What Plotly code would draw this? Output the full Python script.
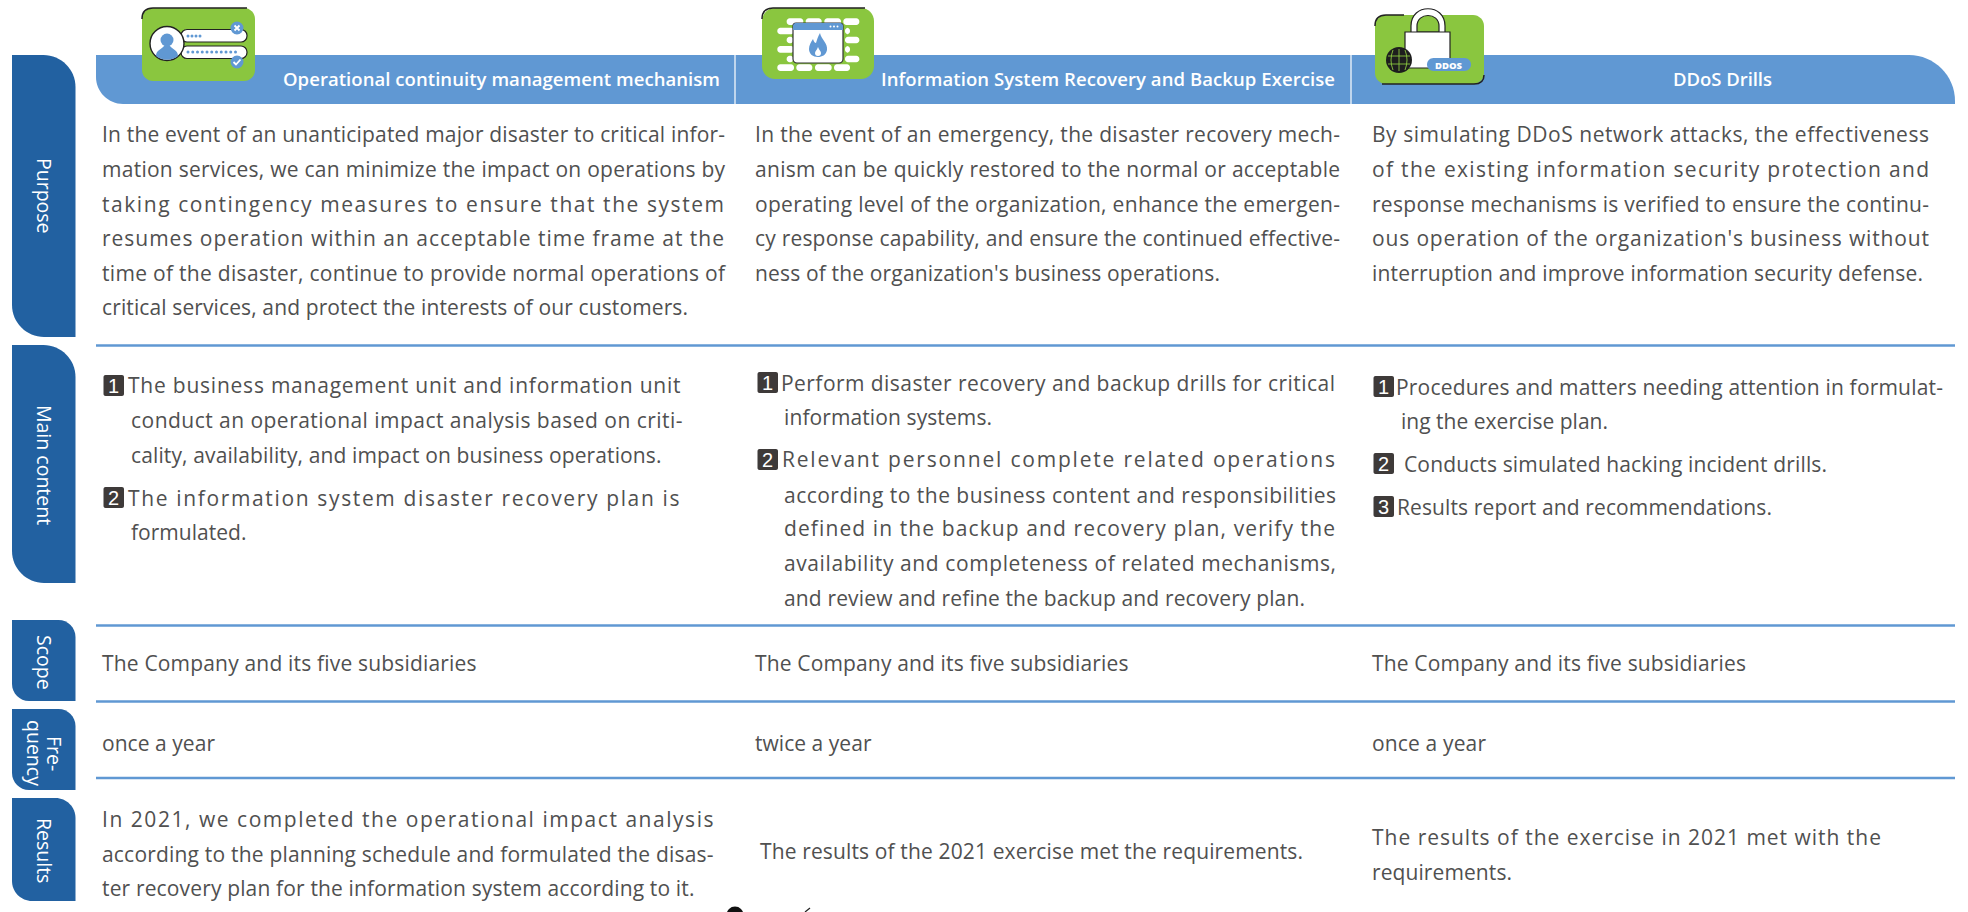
import json
import plotly.graph_objects as go

# ---------- content ----------
COLUMN_TITLES = ["Operational continuity management mechanism",
                 "Information System Recovery and Backup Exercise",
                 "DDoS Drills"]
ROW_LABELS = ["Purpose", "Main content", "Scope", "Fre-", "quency", "Results"]
PURPOSE_1 = ["In the event of an unanticipated major disaster to critical infor-",
             "mation services, we can minimize the impact on operations by",
             "taking contingency measures to ensure that the system",
             "resumes operation within an acceptable time frame at the",
             "time of the disaster, continue to provide normal operations of",
             "critical services, and protect the interests of our customers."]
PURPOSE_2 = ["In the event of an emergency, the disaster recovery mech-",
             "anism can be quickly restored to the normal or acceptable",
             "operating level of the organization, enhance the emergen-",
             "cy response capability, and ensure the continued effective-",
             "ness of the organization's business operations."]
PURPOSE_3 = ["By simulating DDoS network attacks, the effectiveness",
             "of the existing information security protection and",
             "response mechanisms is verified to ensure the continu-",
             "ous operation of the organization's business without",
             "interruption and improve information security defense."]
MAIN_1 = ["The business management unit and information unit",
          "conduct an operational impact analysis based on criti-",
          "cality, availability, and impact on business operations.",
          "The information system disaster recovery plan is",
          "formulated."]
MAIN_2 = ["Perform disaster recovery and backup drills for critical",
          "information systems.",
          "Relevant personnel complete related operations",
          "according to the business content and responsibilities",
          "defined in the backup and recovery plan, verify the",
          "availability and completeness of related mechanisms,",
          "and review and refine the backup and recovery plan."]
MAIN_3 = ["Procedures and matters needing attention in formulat-",
          "ing the exercise plan.",
          "Conducts simulated hacking incident drills.",
          "Results report and recommendations."]
SCOPE = ["The Company and its five subsidiaries"] * 3
FREQUENCY = ["once a year", "twice a year", "once a year"]
RESULTS_1 = ["In 2021, we completed the operational impact analysis",
             "according to the planning schedule and formulated the disas-",
             "ter recovery plan for the information system according to it."]
RESULTS_2 = ["The results of the 2021 exercise met the requirements."]
RESULTS_3 = ["The results of the exercise in 2021 met with the", "requirements."]

# ---------- layout geometry ----------
W, H = 1968, 912
BLUE, NAVY, GREEN, GREY, DARK = "#6098d3", "#2261a1", "#8ac63f", "#505050", "#3e3a39"
BODY = "Open Sans"
SIZE = 21

shapes, annos, targets = [], [], {}


def rr(x0, y0, x1, y1, tl=0, tr=0, br=0, bl=0):
    k = 0.45
    p = f"M{x0+tl},{y0} L{x1-tr},{y0} "
    if tr: p += f"C{x1-tr*k},{y0} {x1},{y0+tr*k} {x1},{y0+tr} "
    p += f"L{x1},{y1-br} "
    if br: p += f"C{x1},{y1-br*k} {x1-br*k},{y1} {x1-br},{y1} "
    p += f"L{x0+bl},{y1} "
    if bl: p += f"C{x0+bl*k},{y1} {x0},{y1-bl*k} {x0},{y1-bl} "
    p += f"L{x0},{y0+tl} "
    if tl: p += f"C{x0},{y0+tl*k} {x0+tl*k},{y0} {x0+tl},{y0} "
    return p + "Z"


def fill(path, color, lw=0, lc=None):
    shapes.append(dict(type="path", path=path, fillcolor=color,
                       line=dict(width=lw, color=lc or color), xref="x", yref="y", layer="below"))


def stroke(path, color, lw=1.5):
    shapes.append(dict(type="path", path=path, line=dict(width=lw, color=color), xref="x", yref="y", layer="below"))


def circle(cx, cy, r, color, lw=0, lc=None):
    shapes.append(dict(type="circle", x0=cx-r, x1=cx+r, y0=cy-r, y1=cy+r, fillcolor=color,
                       line=dict(width=lw, color=lc or color), xref="x", yref="y", layer="below"))


def text(s, x, y, right=None, size=SIZE, color=GREY, weight=400, anchor="left", family=BODY, angle=0):
    if right is not None:
        targets[len(annos)] = right - x
    annos.append(dict(text=s, x=x, y=y, xref="x", yref="y", xanchor=anchor, yanchor="middle",
                      align="left" if anchor == "left" else "center", showarrow=False,
                      borderpad=0, borderwidth=0, textangle=angle,
                      font=dict(family=family, size=size, color=color, weight=weight)))


# left tabs
TAB_Y = [(55, 337), (345, 583), (620, 701), (709, 790), (798, 901)]
TAB_R = [32, 32, 17, 17, 20]
for (y0, y1), r in zip(TAB_Y, TAB_R):
    fill(rr(12, y0, 75.5, y1, tr=r, bl=r), NAVY)
TAB_X = [45, 45, 45, 55, 35, 45]
TAB_CY = [196, 465, 662, 753, 753, 850]
for lab, x, cy in zip(ROW_LABELS, TAB_X, TAB_CY):
    text(lab, x, cy, size=19.5, color="#ffffff", weight=500, anchor="center", angle=90)

# header band
fill(rr(96, 55, 1955, 104, tr=46, bl=27), BLUE)
for x in (735, 1351):
    shapes.append(dict(type="line", x0=x, x1=x, y0=55, y1=104, line=dict(color="#ffffff", width=1.2),
                       xref="x", yref="y", layer="below"))
# row rules
for y in (345.5, 625.5, 701.5, 778):
    shapes.append(dict(type="line", x0=96, x1=1955, y0=y, y1=y, line=dict(color=BLUE, width=2.6),
                       xref="x", yref="y", layer="below"))

# column titles
for s, x, r in zip(COLUMN_TITLES, (283, 881, 1673), (720, 1335, 1772)):
    text(s, x, 78.5, r, size=18.5, color="#ffffff", weight=600)

# ---------- icon 1 ----------
fill(rr(142, 8, 255, 81, 11, 11, 11, 11), GREEN)
stroke("M142,19 Q142,8 153,8 L247,8", "#222222")
fill(rr(181, 29.5, 247, 42, 6, 6, 6, 6), "#ffffff", 1.2, "#222222")
fill(rr(181, 46, 247, 58.5, 6, 6, 6, 6), "#ffffff", 1.2, "#222222")
circle(167, 43.5, 17, "#ffffff", 1.4, "#222222")
circle(167, 40, 6.5, BLUE)
fill("M156,56 C156,50 162,49 164,46 L170,46 C172,49 178,50 178,56 C172,61 162,61 156,56 Z", BLUE)
circle(237, 28, 6.5, BLUE)
circle(237, 62, 6.5, BLUE)
stroke("M234.5,25.5 L239.5,30.5 M239.5,25.5 L234.5,30.5", "#ffffff", 1.8)
stroke("M233.5,62 L236,64.5 L240.5,59.5", "#ffffff", 1.8)

# ---------- icon 2 ----------
fill(rr(762, 8, 874, 79, 13, 13, 13, 13), GREEN)
stroke("M762,19 Q762,8 773,8 L865,8", "#222222")
BRICKS = [(95, 145, 65), (152, 200, 65), (208, 258, 65), (265, 313, 65),
          (67, 117, 93), (270, 285, 93), (95, 115, 120), (270, 313, 120),
          (67, 117, 148), (270, 285, 148), (95, 115, 177), (270, 313, 177),
          (67, 117, 203), (124, 172, 203), (180, 230, 203), (237, 285, 203)]
for a, b, c in BRICKS:
    fill(rr(755 + a/3, c/3 - 3.3, 755 + b/3, c/3 + 3.3, 3, 3, 3, 3), "#ffffff")
fill(rr(793, 23, 843, 63, 3, 3, 4, 4), "#ffffff", 1.2, "#333333")
fill(rr(793, 23, 843, 30, 3, 3, 0, 0), BLUE)
for x in (830.5, 834, 837.5):
    circle(x, 26.5, 1, "#ffffff")
fill("M820,33 C821,39 828,43 827,50 C826,55 822,57 818,57 C813,57 809,54 809,49 "
     "C809,45 811,42 813,39 C814,42 815,43 816,43 C817,40 818,36 820,33 Z", BLUE)
fill("M818,47 C819,50 821,51 821,53 C821,55 820,56 818,56 C816,56 815,55 815,53 C815,51 817,50 818,47 Z", "#ffffff")

# ---------- icon 3 ----------
fill(rr(1375, 15, 1484, 84, 11, 11, 11, 11), GREEN)
stroke("M1375,26 Q1375,15 1386,15 L1404,15", "#222222")
stroke("M1382,84 L1474,84 Q1484,84 1484,75", "#222222")
fill("M1411,33 L1411,26 C1411,3 1445,3 1445,26 L1445,33 Z", "#ffffff", 1.2, "#222222")
fill("M1417,32 L1417,26 C1417,12 1439,12 1439,26 L1439,32 Z", GREEN, 1.2, "#222222")
fill(rr(1405, 32, 1450, 68), "#ffffff", 1.2, "#222222")
circle(1399, 60, 13, "#1e1e1e")
stroke("M1388,56 L1410,56 M1388,64 L1410,64 M1399,49 L1399,71 M1393,50 Q1389,60 1393,70 M1405,50 Q1409,60 1405,70",
       GREEN, 0.9)
fill(rr(1427, 58, 1471, 71, 6.5, 6.5, 6.5, 6.5), BLUE)
text("DDOS", 1449, 65, size=9.5, color="#ffffff", weight=800, anchor="center")

# clipped artwork at the foot of the page
circle(735, 915, 8.5, "#111111")
stroke("M805,912 L810,908", "#222222", 1.3)

# ---------- body text ----------
ROW_Y = [133.5, 168.5, 203.5, 238, 272.5, 307]
for s, y, r in zip(PURPOSE_1, ROW_Y, (725, 725, 724, 724, 725, 688)):
    text(s, 102, y, r)
for s, y, r in zip(PURPOSE_2, ROW_Y, (1340, 1340, 1340, 1340, 1220)):
    text(s, 755, y, r)
for s, y, r in zip(PURPOSE_3, ROW_Y, (1929, 1929, 1929, 1929, 1923)):
    text(s, 1372, y, r)

for s, x, y, r in zip(MAIN_1, (127.5, 130.5, 130.5, 127.5, 130.5), (385, 420, 455, 498, 532), (680, 682, 661, 679, 246)):
    text(s, x, y, r)
for s, x, y, r in zip(MAIN_2, (781, 784, 782, 784, 784, 784, 784), (383, 417, 459, 495, 528, 563, 598),
                      (1335, 992, 1335, 1336, 1335, 1336, 1305)):
    text(s, x, y, r)
for s, x, y, r in zip(MAIN_3, (1396, 1401, 1404, 1397), (387, 421, 464, 507), (1943, 1608, 1827, 1772)):
    text(s, x, y, r)

BADGES = [(103.5, 124, 375, 1), (103.5, 124, 487, 2), (757.5, 778, 372, 1), (757.5, 778, 449, 2),
          (1373.5, 1394, 376, 1), (1373.5, 1394, 453, 2), (1373.5, 1394, 496, 3)]
for x0, x1, y0, n in BADGES:
    fill(rr(x0, y0, x1, y0 + 21, 2, 2, 2, 2), DARK)
    text(str(n), (x0 + x1) / 2, y0 + 10.5, size=20, color="#ffffff", anchor="center", family="Liberation Sans")

for s, x, r in zip(SCOPE, (102, 754.5, 1372), (476.5, 1128, 1746)):
    text(s, x, 663, r)
for s, x, r in zip(FREQUENCY, (102, 754.5, 1372), (215, 871, 1486)):
    text(s, x, 743, r)
for s, y, r in zip(RESULTS_1, (819, 854, 888), (713.5, 713.5, 694.5)):
    text(s, 102, y, r)
text(RESULTS_2[0], 760, 851, 1303)
for s, y, r in zip(RESULTS_3, (837, 872), (1881, 1512)):
    text(s, 1372, y, r)

# ---------- figure ----------
DOT_X = [188, 192, 196, 200] + [188 + 4.75 * i for i in range(11)]
DOT_Y = [36] * 4 + [52] * 11
fig = go.Figure(go.Scatter(x=DOT_X, y=DOT_Y, mode="markers", hoverinfo="skip",
                           marker=dict(color=BLUE, size=3), showlegend=False))
fig.update_layout(width=W, height=H, margin=dict(l=0, r=0, t=0, b=0), paper_bgcolor="#ffffff",
                  plot_bgcolor="#ffffff", shapes=shapes, annotations=annos, showlegend=False,
                  xaxis=dict(range=[0, W], visible=False, fixedrange=True),
                  yaxis=dict(range=[H, 0], visible=False, fixedrange=True))

POST = """
document.documentElement.style.margin='0';document.body.style.margin='0';document.body.style.overflow='hidden';
var targets = %s;
function fitLines(){
  Object.keys(targets).forEach(function(i){
    var t=document.querySelector('g.annotation[data-index="'+i+'"] text.annotation-text');
    if(!t) return;
    t.style.letterSpacing='0px';
    var w=t.getComputedTextLength(), n=t.textContent.length;
    t.style.letterSpacing=((targets[i]-w)/Math.max(n-1,1)).toFixed(3)+'px';
  });
}
fitLines();
""" % json.dumps(targets)

fig.write_html("out.html", config=dict(displayModeBar=False, staticPlot=True), post_script=POST)
